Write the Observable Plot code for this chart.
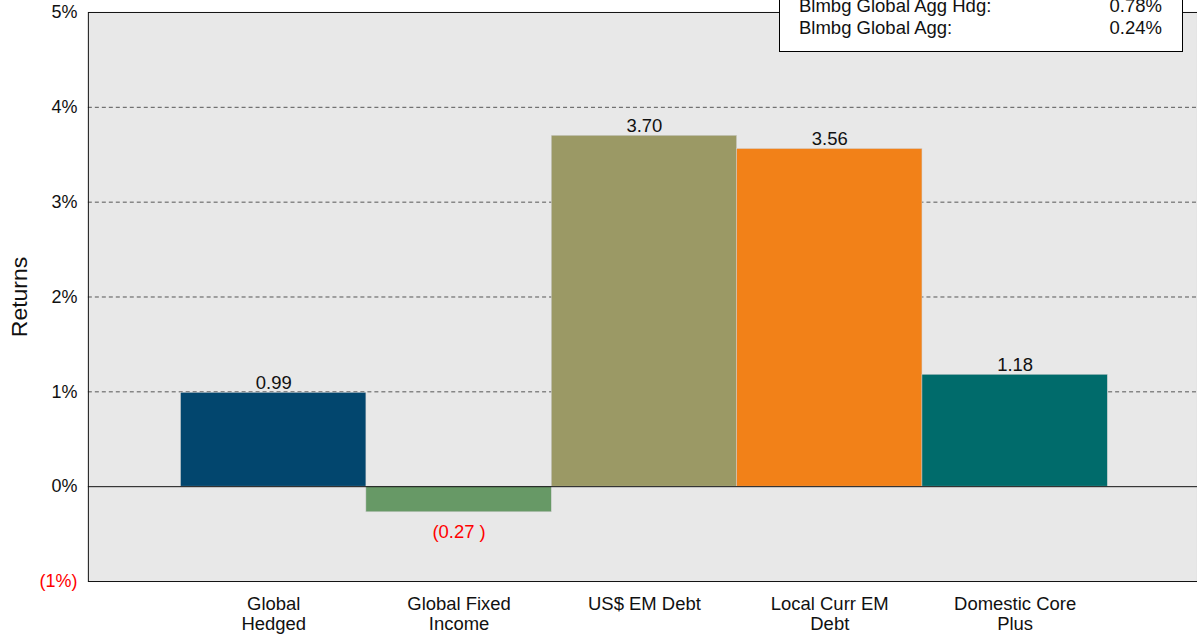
<!DOCTYPE html>
<html>
<head>
<meta charset="utf-8">
<script src="https://cdn.jsdelivr.net/npm/d3@7"></script>
<script src="https://cdn.jsdelivr.net/npm/@observablehq/plot@0.6"></script>
<style>
  html, body { margin: 0; padding: 0; background: #fff; overflow: hidden; }
  #wrap { position: relative; width: 1197px; height: 637px; overflow: hidden; font-family: "Liberation Sans", Arial, sans-serif; }
  #legend { position: absolute; left: 779px; top: -12px; width: 404px; height: 64px; background: #fff; border: 1.5px solid #000; box-sizing: border-box; font-size: 18.5px; color: #111; }
  #legend .row { position: absolute; left: 19px; right: 20px; display: flex; justify-content: space-between; line-height: 1; }
</style>
</head>
<body>
<div id="wrap"><div id="chart"></div>
<div id="legend"></div>
</div>
<script>
const categories = ["Global Hedged", "Global Fixed Income", "US$ EM Debt", "Local Curr EM Debt", "Domestic Core Plus"];
const tickLabels = ["Global\nHedged", "Global Fixed\nIncome", "US$ EM Debt", "Local Curr EM\nDebt", "Domestic Core\nPlus"];
const returns = [0.99, -0.27, 3.70, 3.56, 1.18];
const colors = ["#02466e", "#679966", "#9b9965", "#f28118", "#006b6b"];
const yTicks = [-1, 0, 1, 2, 3, 4, 5];
const legendNames = ["Blmbg Global Agg Hdg:", "Blmbg Global Agg:"];
const legendValues = ["0.78%", "0.24%"];

const data = categories.map((c, i) => ({cat: c, value: returns[i], color: colors[i]}));
const labelOf = new Map(categories.map((c, i) => [c, tickLabels[i]]));
const fmt = v => v < 0 ? `(${d3.format(".2f")(-v)} )` : d3.format(".2f")(v);
const yFmt = d => d < 0 ? `(${-d}%)` : `${d}%`;

const chart = Plot.plot({
  width: 1199,
  height: 637,
  marginLeft: 88,
  marginRight: 0,
  marginTop: 12,
  marginBottom: 55,
  style: {fontFamily: "'Liberation Sans', Arial, sans-serif", background: "#fff", color: "#111"},
  x: {domain: categories, range: [88, 1202], paddingInner: 0, paddingOuter: 0.5, round: false},
  y: {domain: [-1, 5]},
  marks: [
    Plot.frame({fill: "#e8e8e8"}),
    Plot.ruleY(yTicks.filter(d => d > 0 && d < 5), {stroke: "#555", strokeDasharray: "4,3", strokeWidth: 1}),
    Plot.barY(data, {x: "cat", y: "value", fill: "color", stroke: "#d0d0d0", strokeWidth: 0.5, inset: 0}),
    Plot.ruleY([0], {stroke: "#111", strokeWidth: 1}),
    Plot.text(data.filter(d => d.value >= 0), {x: "cat", y: "value", text: d => fmt(d.value), lineAnchor: "bottom", dy: -4, fontSize: 18.5, fill: "#111"}),
    Plot.text(data.filter(d => d.value < 0), {x: "cat", y: "value", text: d => fmt(d.value), lineAnchor: "top", dy: 13, fontSize: 18.5, fill: "#ff0000"}),
    Plot.frame({stroke: "#111", strokeWidth: 1}),
    Plot.axisY(yTicks.filter(d => d >= 0), {tickSize: 0, tickPadding: 11, tickFormat: yFmt, fontSize: 18, fill: "#111", label: null}),
    Plot.axisY(yTicks.filter(d => d < 0), {tickSize: 0, tickPadding: 11, tickFormat: yFmt, fontSize: 18, fill: "#ff0000", label: null}),
    Plot.axisY({ticks: [], tickSize: 0, label: "Returns", labelAnchor: "center", labelOffset: 78, labelArrow: "none", fontSize: 23, fill: "#111"}),
    Plot.axisX({tickSize: 0, tickPadding: 14, tickFormat: d => labelOf.get(d), fontSize: 18.5, lineHeight: 1.08, fill: "#111", label: null})
  ]
});
document.getElementById("chart").appendChild(chart);

const legend = document.getElementById("legend");
legendNames.forEach((n, i) => {
  const row = document.createElement("div");
  row.className = "row";
  row.style.top = (8 + i * 22) + "px";
  row.innerHTML = `<span>${n}</span><span>${legendValues[i]}</span>`;
  legend.appendChild(row);
});
</script>
</body>
</html>
